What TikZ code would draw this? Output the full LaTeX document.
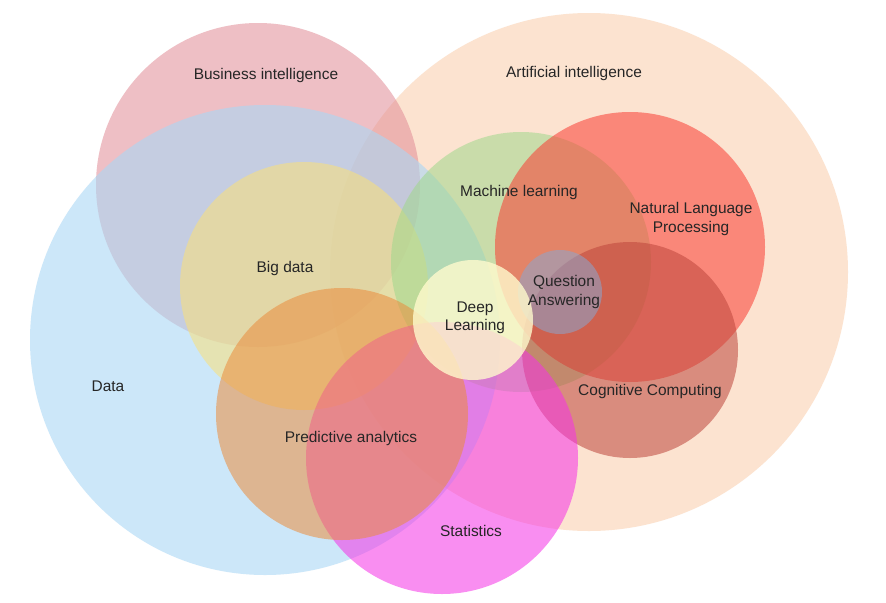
\documentclass[tikz,border=0pt]{standalone}
\usepackage{fontspec}
\setmainfont{Liberation Sans}
\begin{document}
\begin{tikzpicture}[x=0.02cm,y=-0.02cm,
  c/.style={fill=#1,draw=none,fill opacity=0.55},
  t/.style={font=\fontsize{8.8}{10.5}\selectfont,align=center,text=black!85}]
\useasboundingbox (0,0) rectangle (886,602);
\fill[white] (0,0) rectangle (886,602);
\definecolor{ai}{RGB}{250,205,170}
\definecolor{da}{RGB}{170,215,245}
\definecolor{bi}{RGB}{225,140,150}
\definecolor{bd}{RGB}{250,225,120}
\definecolor{ml}{RGB}{160,215,140}
\definecolor{nl}{RGB}{250,60,50}
\definecolor{cc}{RGB}{190,70,60}
\definecolor{pa}{RGB}{235,140,60}
\definecolor{st}{RGB}{245,50,230}
\definecolor{qa}{RGB}{140,165,205}
\definecolor{dl}{RGB}{255,250,205}
\fill[c=ai] (589,272) circle (259);
\fill[c=bi] (258,185) circle (162);
\fill[c=da,fill opacity=0.6] (265,340) circle (235);
\fill[c=bd] (304,286) circle (124);
\fill[c=ml] (521,262) circle (130);
\fill[c=nl] (630,247) circle (135);
\fill[c=cc] (630,350) circle (108);
\fill[c=st] (442,458) circle (136);
\fill[c=pa] (342,414) circle (126);
\fill[c=qa] (560,292) circle (42);
\fill[fill=dl,fill opacity=0.8] (473,320) circle (60);
\node[t] (bi) at (266,76) {Business intelligence};
\node[t] (ai) at (574,74) {Artificial intelligence};
\node[t] (ml) at (519,192) {Machine learning};
\node[t] (nlp) at (691,219) {Natural Language\\Processing};
\node[t] (bd) at (285,268) {Big data};
\node[t] (qa) at (564,292) {Question\\Answering};
\node[t] (dl) at (475,318) {Deep\\Learning};
\node[t] (da) at (108,386) {Data};
\node[t] (cc) at (650,391) {Cognitive Computing};
\node[t] (pa) at (351,438) {Predictive analytics};
\node[t] (st) at (471,531) {Statistics};
\end{tikzpicture}
\end{document}
